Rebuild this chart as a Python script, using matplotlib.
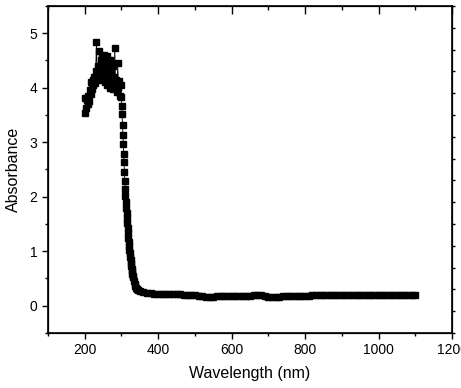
import numpy as np
import matplotlib
matplotlib.use("Agg")
from matplotlib import pyplot as plt
from matplotlib.ticker import MultipleLocator, NullFormatter

plt.rcParams['font.family'] = ['Liberation Sans', 'DejaVu Sans']

# peak region, 2 nm steps (noisy)
wl_peak = list(range(200, 301, 2))
abs_peak = [3.53, 3.82, 3.62, 3.78, 3.70, 3.85, 3.76, 3.95, 3.88, 4.10,
            3.98, 4.15, 4.05, 4.20, 4.08, 4.30, 4.84, 4.25, 4.40, 4.15,
            4.67, 4.35, 4.50, 4.22, 4.55, 4.30, 4.60, 4.10, 4.45, 4.20,
            4.58, 4.05, 4.38, 4.12, 4.50, 4.00, 4.30, 4.08, 4.40, 3.98,
            4.20, 4.73, 4.05, 4.15, 3.92, 4.45, 4.00, 4.12, 3.85, 4.05,
            3.83]

# steep edge, 1-2 nm steps
wl_edge = [301, 302, 303, 304, 305, 306, 307, 308, 309, 310,
           311, 312, 313, 314, 315, 316, 317, 318, 319, 320,
           321, 322, 323, 324, 325, 326, 327, 328, 329, 330,
           331, 332, 334, 336, 338, 340, 343, 346]
abs_edge = [3.67, 3.52, 3.32, 3.14, 2.97, 2.79, 2.64, 2.45, 2.29, 2.14,
            2.01, 1.90, 1.80, 1.70, 1.60, 1.51, 1.42, 1.33, 1.25, 1.17,
            1.10, 1.03, 0.96, 0.90, 0.84, 0.78, 0.73, 0.68, 0.63, 0.59,
            0.55, 0.52, 0.45, 0.40, 0.36, 0.33, 0.30, 0.28]

# flat tail, 10 nm steps
wl_tail = list(range(350, 1101, 10))
abs_tail = [0.26, 0.245, 0.235, 0.225, 0.22, 0.22, 0.215, 0.215, 0.21, 0.21,
            0.21, 0.205, 0.20, 0.20, 0.195, 0.19, 0.185, 0.17, 0.16, 0.155,
            0.16, 0.17, 0.175, 0.18, 0.18, 0.18, 0.18, 0.185, 0.185, 0.18,
            0.185, 0.19, 0.20, 0.19, 0.175, 0.16, 0.155, 0.155, 0.165, 0.175,
            0.18, 0.18, 0.18, 0.185, 0.185, 0.185, 0.185, 0.19, 0.19, 0.19,
            0.19, 0.19, 0.19, 0.19, 0.195, 0.195, 0.195, 0.195, 0.195, 0.195,
            0.195, 0.20, 0.20, 0.20, 0.20, 0.20, 0.20, 0.20, 0.20, 0.20,
            0.20, 0.20, 0.20, 0.20, 0.20, 0.195]

wavelength = np.array(wl_peak + wl_edge + wl_tail)
absorbance = np.array(abs_peak + abs_edge + abs_tail)

fig = plt.figure(figsize=(4.61, 3.88), dpi=100)
ax = fig.add_axes([0.104, 0.142, 0.8765, 0.8425])

ax.plot(wavelength, absorbance, '-s', color='black', linewidth=0.6,
        markersize=4.8, markerfacecolor='black', markeredgecolor='black')

ax.set_xlim(100, 1200)
ax.set_ylim(-0.5, 5.5)
ax.xaxis.set_major_locator(MultipleLocator(200))
ax.xaxis.set_minor_locator(MultipleLocator(100))
ax.yaxis.set_major_locator(MultipleLocator(1))
ax.yaxis.set_minor_locator(MultipleLocator(0.5))
ax.tick_params(which='major', direction='out', length=4.5, width=1.0,
               labelsize=10, pad=3, top=False, right=False)
ax.tick_params(which='minor', direction='out', length=2.5, width=1.0,
               top=False, right=False)
for s in ax.spines.values():
    s.set_linewidth(1.2)

ax.set_xlabel("Wavelength (nm)", fontsize=11.5, labelpad=6)
ax.set_ylabel("Absorbance", fontsize=11.5, labelpad=6)

# top ticks pointing in, no labels
axt = ax.twiny()
axt.set_xlim(ax.get_xlim())
axt.xaxis.set_major_locator(MultipleLocator(200))
axt.xaxis.set_minor_locator(MultipleLocator(100))
axt.xaxis.set_major_formatter(NullFormatter())
axt.tick_params(which='major', direction='in', length=5.5, width=1.0)
axt.tick_params(which='minor', direction='in', length=3, width=1.0)

# right axis ticks, no labels
axr = ax.twinx()
axr.set_ylim(0, 15)
axr.yaxis.set_major_locator(MultipleLocator(1))
axr.yaxis.set_major_formatter(NullFormatter())
axr.tick_params(which='major', direction='out', length=2.5, width=1.0)

fig.savefig("out.png", dpi=100)
